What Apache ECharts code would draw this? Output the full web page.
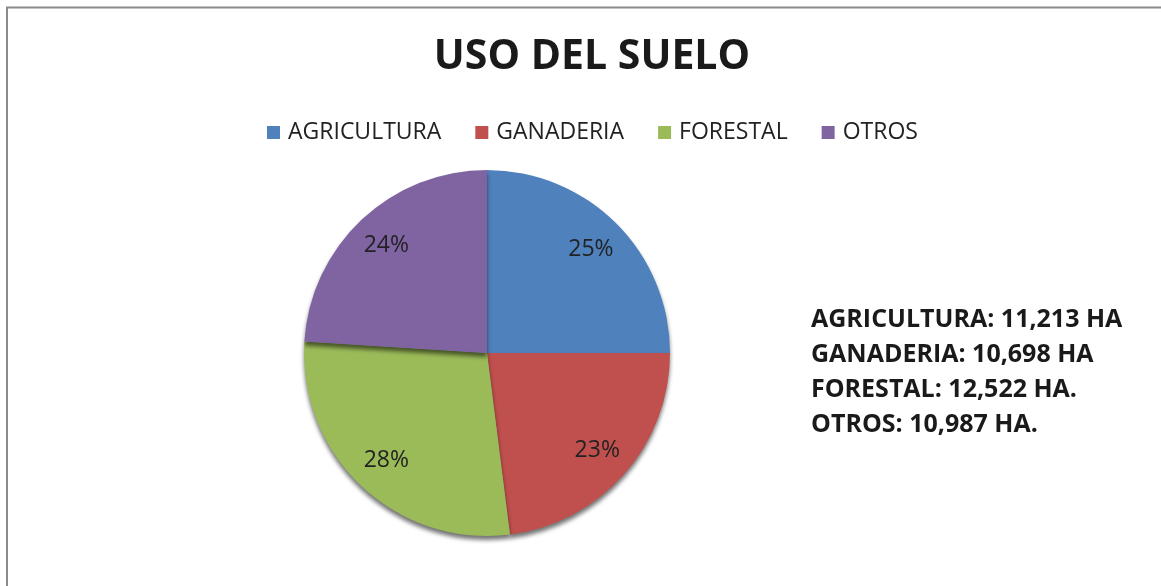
<!DOCTYPE html>
<html>
<head>
<meta charset="utf-8">
<script src="https://cdn.jsdelivr.net/npm/echarts@6/dist/echarts.min.js"></script>
<style>
    html, body { margin: 0; padding: 0; background: #fff; }
    #chart { width: 1161px; height: 586px; }
</style>
</head>
<body>
<div id="chart"></div>
<script>
// datos
const categories = ['AGRICULTURA', 'GANADERIA', 'FORESTAL', 'OTROS'];
const shares = [25, 23, 28, 24];
const hectares = [11213, 10698, 12522, 10987];
const units = ['HA', 'HA', 'HA.', 'HA.'];
const colors = ['#4F81BD', '#C0504D', '#9BBB59', '#8064A2'];

const font = '"Open Sans", "Noto Sans", sans-serif';

let pieData = categories.map((name, i) => ({ name: name, value: shares[i] }));

// bloque de texto a la derecha
let infoLines = categories.map((name, i) => ({
    type: 'text',
    x: 811,
    y: 320 + i * 35,
    style: {
        text: name + ': ' + hectares[i].toLocaleString('en-US') + ' ' + units[i],
        font: 'bold 25px ' + font,
        fill: '#1a1a1a',
        verticalAlign: 'middle'
    }
}));

let option = {
    color: colors,
    animation: false,
    title: {
        text: 'USO DEL SUELO',
        left: 587,
        textAlign: 'center',
        top: 32,
        textStyle: { fontFamily: font, fontWeight: 'bold', fontSize: 41, color: '#1a1a1a' }
    },
    legend: {
        top: 116,
        left: 262,
        itemWidth: 13,
        itemHeight: 13,
        itemGap: 34,
        icon: 'rect',
        textStyle: { fontFamily: font, fontSize: 23, color: '#222', padding: [0, 0, 0, 3] },
        data: categories
    },
    graphic: [
        {
            type: 'polyline',
            shape: { points: [[7, 586], [7, 7.5], [1161, 7.5]] },
            style: { stroke: '#8a8a8a', lineWidth: 2, fill: null }
        },
        ...infoLines
    ],
    series: [
        {
            type: 'pie',
            center: [487, 353],
            radius: [0, 183],
            startAngle: 90,
            label: { show: false },
            labelLine: { show: false },
            itemStyle: {
                shadowColor: 'rgba(0,0,0,0.55)',
                shadowBlur: 4,
                shadowOffsetY: 4
            },
            emphasis: { disabled: true },
            data: pieData
        },
        {
            // anillo transparente solo para colocar las etiquetas
            type: 'pie',
            center: [487, 353],
            radius: [105, 183],
            startAngle: 90,
            silent: true,
            itemStyle: { color: 'rgba(0,0,0,0)' },
            label: {
                show: true,
                position: 'inside',
                formatter: '{c}%',
                fontFamily: font,
                fontSize: 23,
                color: '#222'
            },
            labelLine: { show: false },
            emphasis: { disabled: true },
            data: pieData
        }
    ]
};

let myChart = echarts.init(document.getElementById('chart'));
myChart.setOption(option);
</script>
</body>
</html>
